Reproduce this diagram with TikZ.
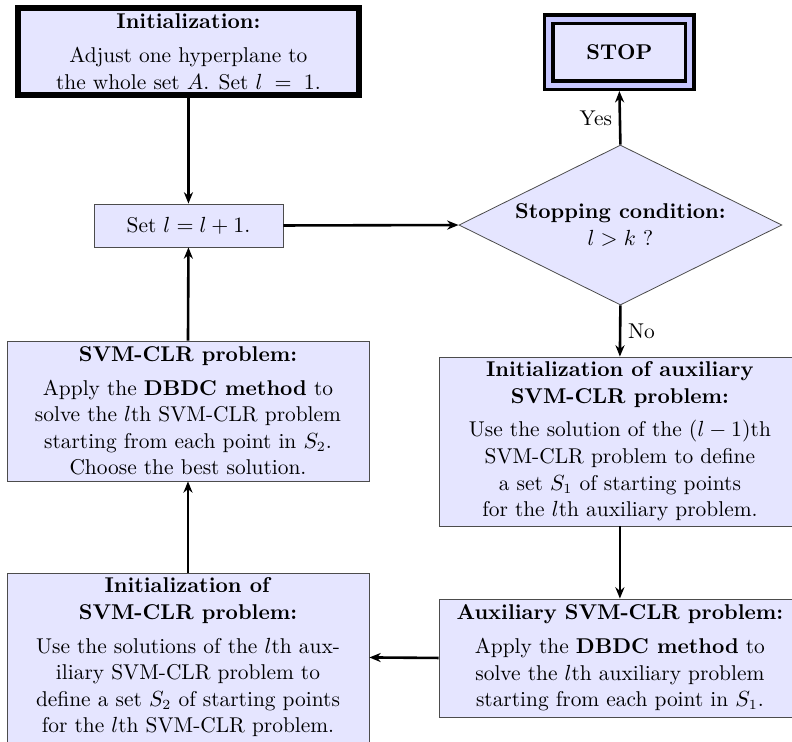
\documentclass[tikz,border=0pt]{standalone}
\usepackage{amsmath,amssymb}
\usepackage{tikz}
\usetikzlibrary{shapes.geometric,arrows.meta,positioning}

\begin{document}
\begin{tikzpicture}[every node/.style={font=\fontsize{10.7}{13.3}\selectfont},
    box/.style={draw=black!70, fill=blue!10, align=center, inner sep=1.5pt},
    flow/.style={-{Stealth[length=2mm, width=1.6mm]}, line width=1.3pt}]
\useasboundingbox (0,0) rectangle (13.92,13.04);

% ==== Left column ====
\node[box, draw=black, line width=3pt, minimum width=170.5pt, minimum height=43.5pt]
    (init) at (3.312, 12.134) {\textbf{Initialization:}\\[4pt]
    Adjust one hyperplane to\\ the whole set $A$. Set $l\;=\;1$.};
\node[box, minimum width=94.5pt, minimum height=21.5pt]
    (setl) at (3.312, 9.077) {Set $l = l + 1$.};
\node[box, minimum width=181pt, minimum height=70pt]
    (svmclr) at (3.304, 5.817) {\textbf{SVM-CLR problem:}\\[3.5pt]
    Apply the \textbf{DBDC method} to\\ solve the $l$th SVM-CLR problem\\
    starting from each point in $S_2$.\\ Choose the best solution.};
\node[box, minimum width=181pt, minimum height=84.5pt]
    (initsvm) at (3.304, 1.485) {\textbf{Initialization of}\\ \textbf{SVM-CLR problem:}\\[3.5pt]
    Use the solutions of the $l$th aux-\\ iliary SVM-CLR problem to\\
    define a set $S_2$ of starting points\\ for the $l$th SVM-CLR problem.};

% ==== Right column ====
\node[box, draw=black, line width=1.75pt, double=blue!22, double distance=2.5pt,
    outer sep=3pt, minimum width=70.5pt, minimum height=33pt]
    (stop) at (10.886, 12.125) {\textbf{STOP}};
\node[box, diamond, aspect=2, inner sep=0pt, minimum width=161.5pt, minimum height=80pt]
    (stopcond) at (10.904, 9.085) {\textbf{Stopping condition:}\\ $l > k$ ?};
\node[box, minimum width=181pt, minimum height=84.5pt]
    (auxinit) at (10.895, 5.281) {\textbf{Initialization of auxiliary}\\ \textbf{SVM-CLR problem:}\\[3.5pt]
    Use the solution of the $(l-1)$th\\ SVM-CLR problem to define\\
    a set $S_1$ of starting points\\ for the $l$th auxiliary problem.};
\node[box, minimum width=181pt, minimum height=59pt]
    (auxsvm) at (10.895, 1.476) {\textbf{Auxiliary SVM-CLR problem:}\\[3.5pt]
    Apply the \textbf{DBDC method} to\\ solve the $l$th auxiliary problem\\
    starting from each point in $S_1$.};

% ==== Connectors ====
\draw[flow] (init.south) -- (setl.north);
\draw[flow] (setl.east) -- (stopcond.west);
\draw[flow] (stopcond.north) -- node[left] {Yes} (stop.south);
\draw[flow] (stopcond.south) -- node[right] {No} (auxinit.north);
\draw[flow] (auxinit.south) -- (auxsvm.north);
\draw[flow] (auxsvm.west) -- (initsvm.east);
\draw[flow] (initsvm.north) -- (svmclr.south);
\draw[flow] (svmclr.north) -- (setl.south);
\end{tikzpicture}
\end{document}
